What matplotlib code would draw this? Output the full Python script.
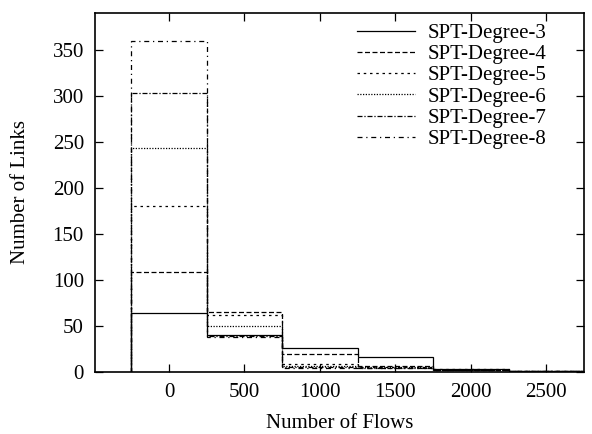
import numpy as np
import matplotlib
matplotlib.use("Agg")
import matplotlib.pyplot as plt

plt.rcParams["font.family"] = ["Liberation Serif", "DejaVu Serif"]

# bin centres (number of flows) and link counts per SPT degree
bin_centers = [0, 500, 1000, 1500, 2000, 2500]
bin_width = 500

deg3 = [64, 40, 26, 16, 3, 1]
deg4 = [108, 65, 19, 6, 2, 1]
deg5 = [180, 62, 8, 5, 3, 1]
deg6 = [243, 50, 6, 5, 2, 1]
deg7 = [303, 39, 5, 4, 2, 1]
deg8 = [360, 38, 4, 4, 2, 1]

series = [
    ("SPT-Degree-3", deg3, "-"),
    ("SPT-Degree-4", deg4, (0, (4, 2))),
    ("SPT-Degree-5", deg5, (0, (2, 3))),
    ("SPT-Degree-6", deg6, (0, (1, 1.2))),
    ("SPT-Degree-7", deg7, (0, (4, 1.5, 1, 1.5))),
    ("SPT-Degree-8", deg8, (0, (4, 3, 1, 3))),
]

edges = np.append(np.array(bin_centers) - bin_width / 2,
                  bin_centers[-1] + bin_width / 2)

fig = plt.figure(figsize=(5.92, 4.34), dpi=100)
ax = fig.add_axes([0.1605, 0.1435, 0.826, 0.826])

for label, vals, ls in series:
    ax.stairs(vals, edges, baseline=0, color="black", linestyle=ls,
              linewidth=0.9, label=label)

ax.set_xlim(-490, 2750)
ax.set_ylim(0, 390)
ax.set_xticks(bin_centers)
ax.set_yticks(range(0, 351, 50))
ax.tick_params(direction="in", top=True, right=True, length=6,
               width=0.9, labelsize=15, pad=8)
for sp in ax.spines.values():
    sp.set_linewidth(1.2)

ax.set_xlabel("Number of Flows", fontsize=15, labelpad=9)
ax.set_ylabel("Number of Links", fontsize=15, labelpad=16)

handles = [plt.Line2D([], [], color="black", linestyle=ls, linewidth=0.9)
           for _, _, ls in series]
ax.legend(handles, [s[0] for s in series], loc="upper right", frameon=False,
          fontsize=15, handlelength=2.8, handletextpad=0.6, labelspacing=0.08,
          borderaxespad=0, bbox_to_anchor=(0.94, 0.995))

fig.savefig("out.png", dpi=100)
